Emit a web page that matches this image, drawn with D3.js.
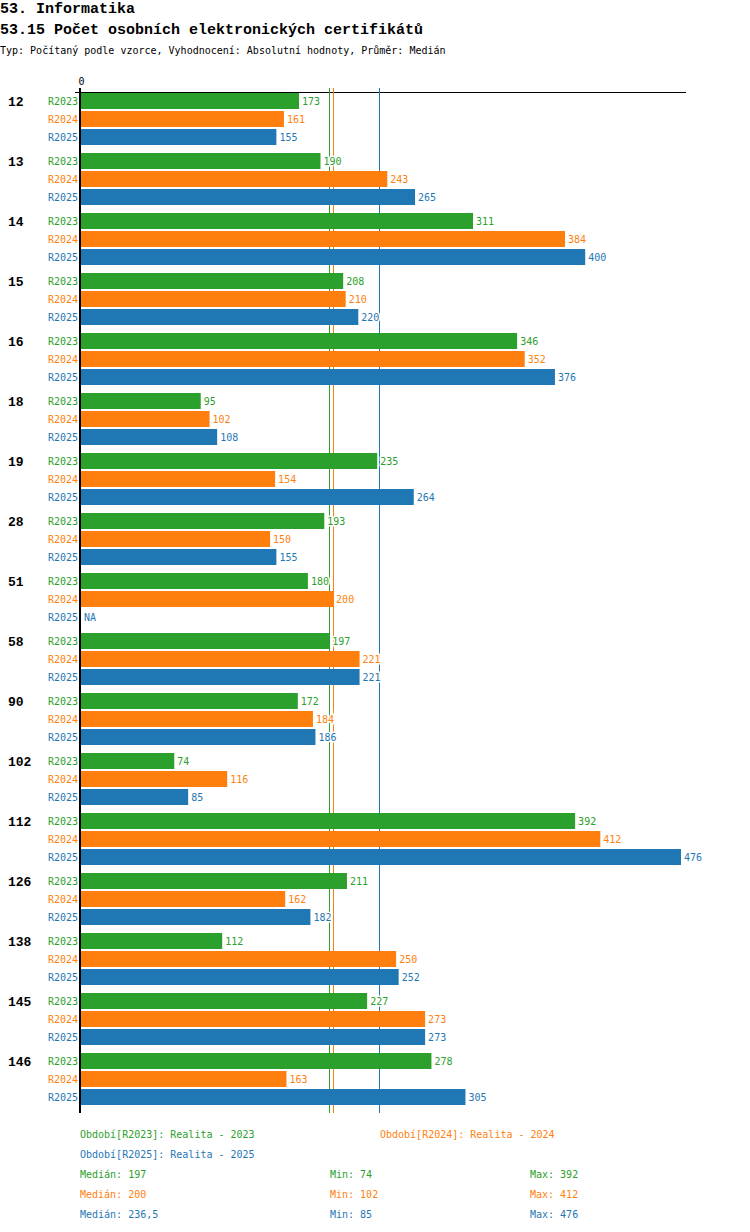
<!DOCTYPE html>
<html>
<head>
<meta charset="utf-8">
<script src="https://cdn.jsdelivr.net/npm/d3@7"></script>
<style>
  body { margin: 0; background: #fff; }
  text { font-family: "DejaVu Sans Mono", monospace; }
  .title { font-family: "Liberation Mono", monospace; font-weight: bold; }
</style>
</head>
<body>
<svg width="750" height="1232"></svg>
<script>
// data
const groups = ['12', '13', '14', '15', '16', '18', '19', '28', '51', '58', '90', '102', '112', '126', '138', '145', '146']
const seriesNames = ['R2023', 'R2024', 'R2025']
const r2023 = [173, 190, 311, 208, 346, 95, 235, 193, 180, 197, 172, 74, 392, 211, 112, 227, 278]
const r2024 = [161, 243, 384, 210, 352, 102, 154, 150, 200, 221, 184, 116, 412, 162, 250, 273, 163]
const r2025 = [155, 265, 400, 220, 376, 108, 264, 155, null, 221, 186, 85, 476, 182, 252, 273, 305]
const periodLabels = ['Realita - 2023', 'Realita - 2024', 'Realita - 2025']
const colors = ['#2ca02c', '#ff7f0e', '#1f77b4']

const series = [r2023, r2024, r2025]

const svg = d3.select('svg')

const x = d3.scaleLinear()
  .domain([0, d3.max(series, s => d3.max(s))])
  .range([81, 681])

const yGroup = d3.scaleBand()
  .domain(groups)
  .range([93, 93 + groups.length * 60])
  .paddingInner(0)

const ySeries = d3.scaleBand()
  .domain(seriesNames)
  .range([0, 52])
  .paddingInner(2 / 18)

const fmt = v => String(v).replace('.', ',')

// titles
svg.append('text').attr('class', 'title').attr('x', 0).attr('y', 13)
  .attr('font-size', 15).text('53. Informatika')
svg.append('text').attr('class', 'title').attr('x', 0).attr('y', 34)
  .attr('font-size', 15).text('53.15 Počet osobních elektronických certifikátů')
svg.append('text').attr('x', 0).attr('y', 54)
  .attr('font-size', 10).text('Typ: Počítaný podle vzorce, Vyhodnocení: Absolutní hodnoty, Průměr: Medián')

// top axis
const axisTop = svg.append('g').attr('transform', 'translate(0,92)')
  .call(d3.axisTop(x).tickValues([0]).tickSize(0).tickPadding(7))
axisTop.select('.domain').remove()
axisTop.selectAll('text').attr('font-size', 10).attr('font-family', '"DejaVu Sans Mono", monospace').attr('fill', '#000')
svg.append('line').attr('x1', 75).attr('x2', 686).attr('y1', 92.5).attr('y2', 92.5)
  .attr('stroke', '#000').attr('shape-rendering', 'crispEdges')

// median lines
const medians = series.map(s => d3.median(s.filter(v => v != null)))
svg.append('g').selectAll('line').data(medians).join('line')
  .attr('x1', d => Math.round(x(d)) + 0.5).attr('x2', d => Math.round(x(d)) + 0.5)
  .attr('y1', 88).attr('y2', 1113)
  .attr('shape-rendering', 'crispEdges')
  .style('stroke', (d, i) => colors[i]).attr('stroke-width', 1)

// bars
const rows = []
groups.forEach((g, gi) => {
  series.forEach((s, si) => rows.push({ group: g, name: seriesNames[si], value: s[gi], color: colors[si] }))
})

const row = svg.append('g').selectAll('g').data(rows).join('g')
  .attr('transform', d => `translate(0,${yGroup(d.group) + ySeries(d.name)})`)

row.filter(d => d.value != null).append('rect')
  .attr('x', x(0)).attr('y', 0)
  .attr('width', d => x(d.value) - x(0))
  .attr('height', ySeries.bandwidth())
  .attr('fill', d => d.color)

row.append('text')
  .attr('x', 78).attr('y', ySeries.bandwidth() / 2)
  .attr('dy', '0.35em').attr('text-anchor', 'end')
  .attr('font-size', 10).attr('fill', d => d.color)
  .text(d => d.name)

row.append('text')
  .attr('x', d => (d.value == null ? x(0) : x(d.value)) + 3)
  .attr('y', ySeries.bandwidth() / 2)
  .attr('dy', '0.35em')
  .attr('font-size', 10).attr('fill', d => d.color)
  .attr('stroke', '#fff').attr('stroke-width', 3).attr('paint-order', 'stroke')
  .text(d => d.value == null ? 'NA' : d.value)

// group labels
svg.append('g').selectAll('text').data(groups).join('text')
  .attr('class', 'title')
  .attr('x', 8).attr('y', d => yGroup(d) + 8)
  .attr('dy', '0.35em')
  .attr('font-size', 13)
  .text(d => d)

// zero axis
svg.append('line').attr('x1', x(0) - 1).attr('x2', x(0) - 1).attr('y1', 88).attr('y2', 1113)
  .attr('stroke', '#000').attr('stroke-width', 2).attr('shape-rendering', 'crispEdges')

// legend
const legendPos = [[80, 1134], [380, 1134], [80, 1154]]
svg.append('g').selectAll('text').data(seriesNames).join('text')
  .attr('x', (d, i) => legendPos[i][0]).attr('y', (d, i) => legendPos[i][1])
  .attr('dy', '0.35em').attr('font-size', 10).attr('fill', (d, i) => colors[i])
  .text((d, i) => `Období[${d}]: ${periodLabels[i]}`)

const stats = svg.append('g').selectAll('g').data(series).join('g')
  .attr('transform', (d, i) => `translate(0,${1174 + i * 20})`)
  .attr('fill', (d, i) => colors[i])
stats.append('text').attr('x', 80).attr('dy', '0.35em').attr('font-size', 10)
  .text((d, i) => `Medián: ${fmt(medians[i])}`)
stats.append('text').attr('x', 330).attr('dy', '0.35em').attr('font-size', 10)
  .text(d => `Min: ${d3.min(d)}`)
stats.append('text').attr('x', 530).attr('dy', '0.35em').attr('font-size', 10)
  .text(d => `Max: ${d3.max(d)}`)
</script>
</body>
</html>
